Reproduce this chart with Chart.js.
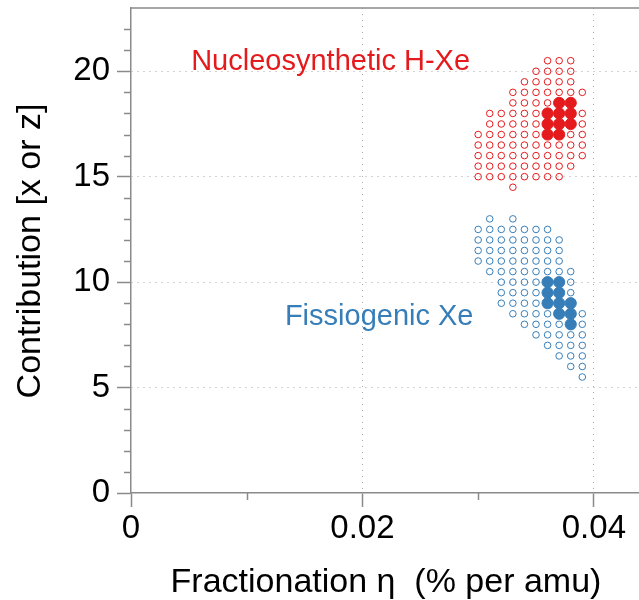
<!DOCTYPE html>
<html>
<head>
<meta charset="utf-8">
<script src="https://cdn.jsdelivr.net/npm/chart.js@4.4.1/dist/chart.umd.min.js"></script>
<style>
  html, body { margin: 0; padding: 0; background: #fff; overflow: hidden; }
  canvas { display: block; }
</style>
</head>
<body>
<canvas id="chart" width="639" height="600"></canvas>
<script>
// eta values are written in units of 0.001 % per amu, one row per contribution level
const redOpenRows = [
  [20.5, [36, 37, 38]],
  [20.0, [35, 36, 37, 38]],
  [19.5, [34, 35, 36, 37, 38]],
  [19.0, [33, 34, 35, 36, 37, 38, 39]],
  [18.5, [33, 34, 35, 36]],
  [18.0, [31, 32, 33, 34, 35, 39]],
  [17.5, [31, 32, 33, 34, 35, 39]],
  [17.0, [30, 31, 32, 33, 34, 35, 38, 39]],
  [16.5, [30, 31, 32, 33, 34, 35, 36, 37, 38, 39]],
  [16.0, [30, 31, 32, 33, 34, 35, 36, 37, 38, 39]],
  [15.5, [30, 31, 32, 33, 34, 35, 36, 37, 38]],
  [15.0, [30, 31, 32, 33, 34, 35, 36, 37]],
  [14.5, [33]]
];
const redFilledRows = [
  [18.5, [37, 38]],
  [18.0, [36, 37, 38]],
  [17.5, [36, 37, 38]],
  [17.0, [36, 37]]
];
const blueOpenRows = [
  [13.0, [31, 33]],
  [12.5, [30, 31, 32, 33, 34, 35, 36]],
  [12.0, [30, 31, 32, 33, 34, 35, 36, 37]],
  [11.5, [30, 31, 32, 33, 34, 35, 36, 37]],
  [11.0, [30, 31, 32, 33, 34, 35, 36, 37]],
  [10.5, [31, 32, 33, 34, 35, 36, 37, 38]],
  [10.0, [32, 33, 34, 35, 38]],
  [9.5, [32, 33, 34, 35, 38]],
  [9.0, [32, 33, 34, 35]],
  [8.5, [33, 34, 35, 36, 39]],
  [8.0, [34, 35, 36, 37, 39]],
  [7.5, [35, 36, 37, 38, 39]],
  [7.0, [36, 37, 38, 39]],
  [6.5, [37, 38, 39]],
  [6.0, [38, 39]],
  [5.5, [39]]
];
const blueFilledRows = [
  [10.0, [36, 37]],
  [9.5, [36, 37]],
  [9.0, [36, 37, 38]],
  [8.5, [37, 38]],
  [8.0, [38]]
];

const xTicks = [0, 0.02, 0.04];
const xTickLabels = ["0", "0.02", "0.04"];
const xMinorTicks = [0.01, 0.03];
const yTicks = [0, 5, 10, 15, 20];
const yTickLabels = ["0", "5", "10", "15", "20"];
const yMinorTicks = [1, 2, 3, 4, 6, 7, 8, 9, 11, 12, 13, 14, 16, 17, 18, 19, 21, 22];

const seriesLabels = ["Nucleosynthetic H-Xe", "Fissiogenic Xe"];
const xTitle = "Fractionation \u03b7  (% per amu)";
const yTitle = "Contribution [x or z]";

const RED = "#e41a1c";
const BLUE = "#377eb8";
const AXIS = "#8a8a8a";
const FONT = "'Liberation Sans', Arial, Helvetica, sans-serif";

function toPoints(rows){
  const pts = [];
  rows.forEach(([y, xs]) => xs.forEach(x => pts.push({ x: x / 1000, y })));
  return pts;
}

function openSet(rows, color){
  return {
    data: toPoints(rows), order: 2,
    pointStyle: "circle", pointRadius: 3.3, pointBorderWidth: 1,
    pointBackgroundColor: "rgba(255,255,255,0)", pointBorderColor: color
  };
}
function filledSet(rows, color){
  return {
    data: toPoints(rows), order: 1,
    pointStyle: "circle", pointRadius: 5.6, pointBorderWidth: 1,
    pointBackgroundColor: color, pointBorderColor: color
  };
}

// the axes should not ask the layout for room round the plot area
function noPad(s){
  s.paddingTop = 0; s.paddingBottom = 0; s.paddingLeft = 0; s.paddingRight = 0;
}

// minor ticks, top frame, labels and axis titles
const extras = {
  id: "extras",
  afterDraw(chart){
    const { ctx, chartArea: a, scales: { x, y } } = chart;
    ctx.save();
    ctx.strokeStyle = AXIS;
    ctx.lineWidth = 1.5;
    ctx.beginPath();
    ctx.moveTo(a.left, a.top);
    ctx.lineTo(a.right, a.top);
    yMinorTicks.forEach(v => {
      const p = Math.round(y.getPixelForValue(v)) + 0.5;
      ctx.moveTo(a.left - 7, p);
      ctx.lineTo(a.left, p);
    });
    xMinorTicks.forEach(v => {
      const p = Math.round(x.getPixelForValue(v)) + 0.5;
      ctx.moveTo(p, a.bottom);
      ctx.lineTo(p, a.bottom + 7);
    });
    ctx.stroke();

    ctx.font = "29px " + FONT;
    ctx.textAlign = "left";
    ctx.textBaseline = "alphabetic";
    ctx.fillStyle = RED;
    ctx.fillText(seriesLabels[0], x.getPixelForValue(0.0052), y.getPixelForValue(20.05));
    ctx.fillStyle = BLUE;
    ctx.fillText(seriesLabels[1], x.getPixelForValue(0.0133), y.getPixelForValue(7.95));

    ctx.fillStyle = "#000";
    ctx.font = "34px " + FONT;
    ctx.textAlign = "center";
    ctx.fillText(xTitle, 386, 592);
    ctx.translate(40, 251);
    ctx.rotate(-Math.PI / 2);
    ctx.fillText(yTitle, 0, 0);
    ctx.restore();
  }
};

new Chart(document.getElementById("chart"), {
  type: "scatter",
  data: {
    datasets: [
      openSet(redOpenRows, RED),
      filledSet(redFilledRows, RED),
      openSet(blueOpenRows, BLUE),
      filledSet(blueFilledRows, BLUE)
    ]
  },
  options: {
    responsive: false,
    animation: false,
    layout: { autoPadding: false, padding: { top: 8, left: 0, right: 0, bottom: 0 } },
    plugins: { legend: { display: false }, tooltip: { enabled: false } },
    scales: {
      x: {
        type: "linear", min: 0, max: 0.0439,
        afterBuildTicks: s => { s.ticks = xTicks.map(v => ({ value: v })); },
        afterFit: s => { s.height = 107; noPad(s); },
        ticks: {
          color: "#000", padding: 2, maxRotation: 0,
          font: { family: FONT, size: 33 },
          callback: (v, i) => xTickLabels[i]
        },
        grid: {
          color: c => (c.tick && c.tick.value === 0) ? "rgba(0,0,0,0)" : "#a8a8a8",
          lineWidth: 1, drawTicks: true, tickLength: 14, tickColor: AXIS, tickWidth: 1.5
        },
        border: { display: true, color: AXIS, width: 1.5, dash: [1, 5] }
      },
      y: {
        type: "linear", min: 0, max: 23,
        afterBuildTicks: s => { s.ticks = yTicks.map(v => ({ value: v })); },
        afterFit: s => { s.width = 131; noPad(s); },
        ticks: {
          color: "#000", padding: 7,
          font: { family: FONT, size: 33 },
          callback: (v, i) => yTickLabels[i]
        },
        grid: {
          color: c => (c.tick && c.tick.value === 0) ? "rgba(0,0,0,0)" : "#a8a8a8",
          lineWidth: 1, drawTicks: true, tickLength: 14, tickColor: AXIS, tickWidth: 1.5
        },
        border: { display: true, color: AXIS, width: 1.5, dash: [1, 5] }
      }
    }
  },
  plugins: [extras]
});
</script>
</body>
</html>
